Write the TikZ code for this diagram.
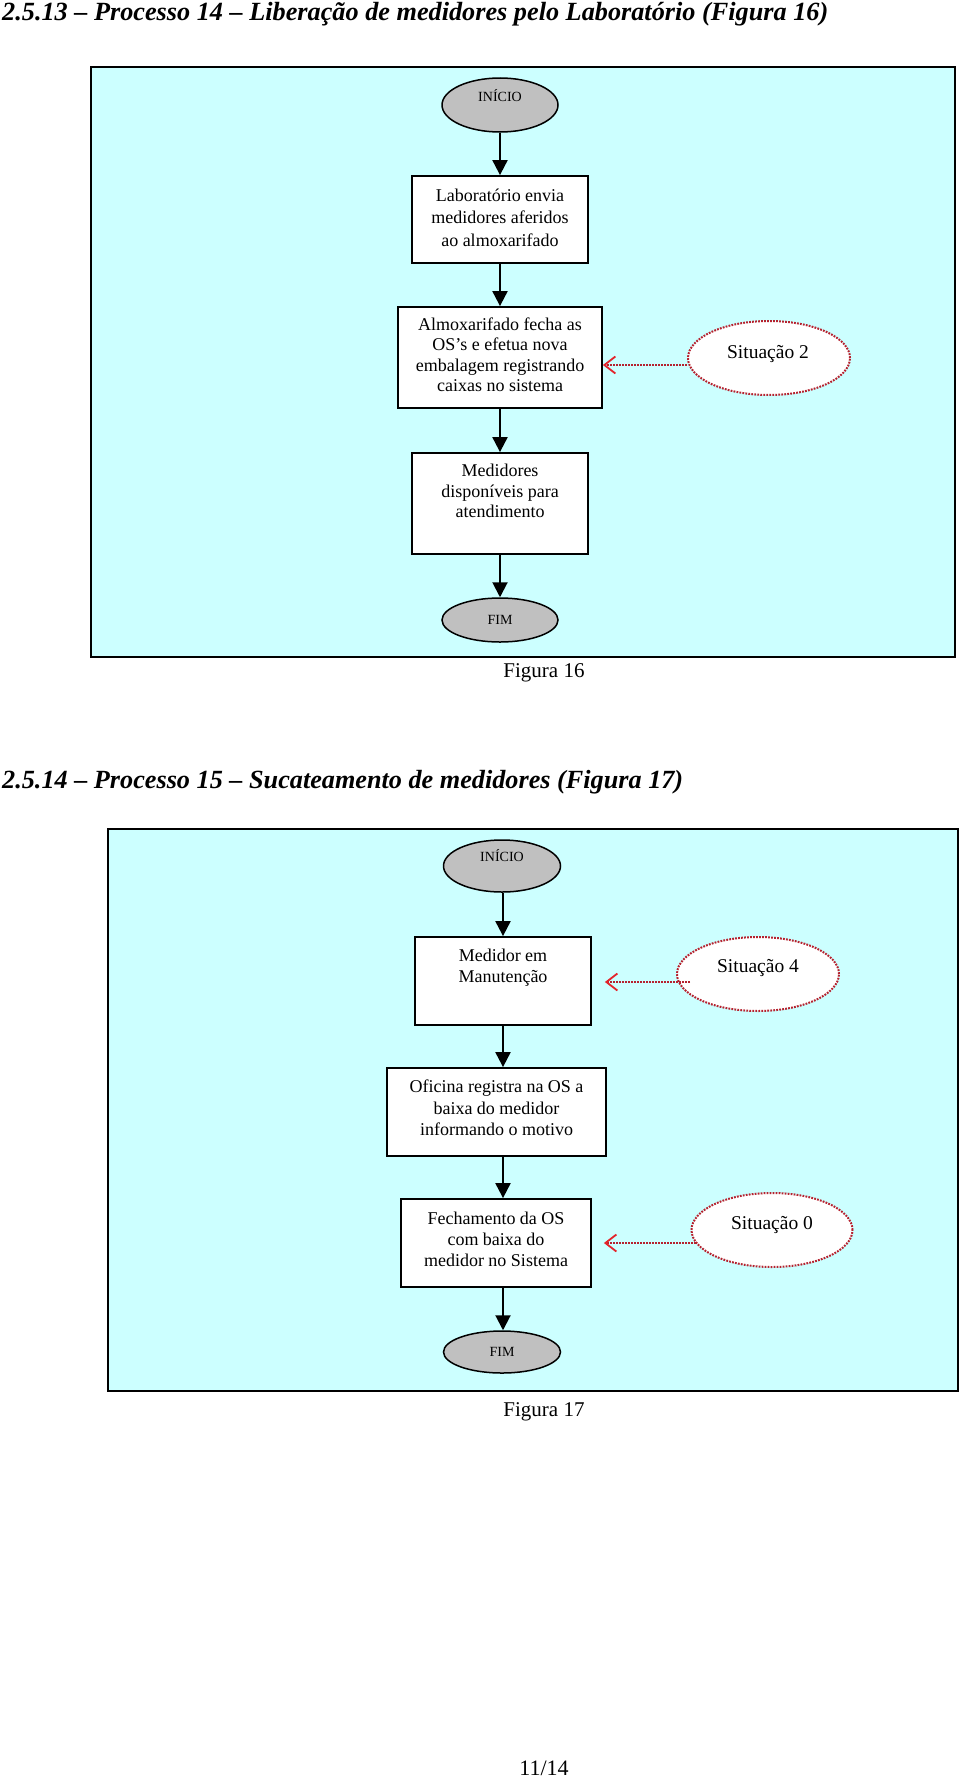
\documentclass[tikz,border=0pt]{standalone}
\usepackage{fontspec}
\setmainfont{Liberation Serif}
\usepackage{graphicx}
\usetikzlibrary{arrows.meta,calc,shapes.geometric}
\definecolor{bgcyan}{HTML}{CCFFFF}
\definecolor{ellgray}{HTML}{C0C0C0}
\definecolor{dotred}{HTML}{B5222F}
\definecolor{tipred}{HTML}{E3242B}
\newcommand\SL[1]{\strut#1}
\begin{document}
\begin{tikzpicture}[x=1pt,y=-1pt,
  frame/.style={draw=black, line width=2pt, fill=bgcyan, rectangle, inner sep=0pt},
  stepbox/.style={draw=black, line width=1.8pt, fill=white, rectangle, inner sep=0pt},
  term/.style={draw=black, line width=1.5pt, fill=ellgray, ellipse, inner sep=0pt},
  sit/.style={draw=dotred, line width=2pt, dash pattern=on 1.8pt off 1.2pt, fill=white, ellipse, inner sep=0pt},
  boxtext/.style={align=center, font=\fontsize{18}{21}\selectfont, inner sep=0pt},
  termtext/.style={anchor=base, font=\fontsize{14}{16}\selectfont, inner sep=0pt},
  sittext/.style={anchor=base, font=\fontsize{19.5}{22}\selectfont, inner sep=0pt},
  plain/.style={anchor=base, inner sep=0pt},
  flow/.style={draw=black, line width=2pt, -{Triangle[length=15pt,width=15pt]}},
  ref/.style={draw=dotred, line width=2pt, dash pattern=on 1.8pt off 1.2pt,
    -{Straight Barb[length=11pt,width=17pt,line width=1.8pt,color=tipred]}}
]
\fill[white] (0,0) rectangle (960,1777);
\useasboundingbox (0,0) rectangle (960,1777);

% ---------- Title 1 ----------
\node[anchor=base west, inner sep=0pt] (t1) at (2,21)
  {\resizebox{826pt}{!}{\fontsize{26}{30}\selectfont\bfseries\itshape 2.5.13 – Processo 14 – Liberação de medidores pelo Laboratório (Figura 16)}};

% ---------- Figure 16 ----------
\node[frame, minimum width=864pt, minimum height=590pt] (f1) at (523,362) {};

\node[term, minimum width=116pt, minimum height=54pt] (st1) at (500,105) {};
\node[termtext] (st1t) at (500,101.6) {INÍCIO};

\node[stepbox, minimum width=176pt, minimum height=87pt] (b1) at (500,219.5) {};
\node[boxtext, font=\fontsize{18}{22.5}\selectfont] (b1t) at (500,219.3)
  {\SL{Laboratório envia}\\\SL{medidores aferidos}\\\SL{ao almoxarifado}};

\node[stepbox, minimum width=204pt, minimum height=101pt] (b2) at (500,357.5) {};
\node[boxtext, font=\fontsize{18}{20.3}\selectfont] (b2t) at (500,357)
  {\SL{Almoxarifado fecha as}\\\SL{OS’s e efetua nova}\\\SL{embalagem registrando}\\\SL{caixas no sistema}};

\node[sit, minimum width=162pt, minimum height=74pt] (s2) at (769,358) {};
\node[sittext] (s2t) at (768,358.5) {Situação 2};

\node[stepbox, minimum width=176pt, minimum height=101pt] (b3) at (500,503.5) {};
\node[boxtext, font=\fontsize{18}{20.5}\selectfont] (b3t) at (500,493.3)
  {\SL{Medidores}\\\SL{disponíveis para}\\\SL{atendimento}};

\node[term, minimum width=116pt, minimum height=44pt] (en1) at (500,620) {};
\node[termtext] (en1t) at (500,624.6) {FIM};

\draw[flow] (st1) -- (b1);
\draw[flow] (b1) -- (b2);
\draw[flow] (b2) -- (b3);
\draw[flow] (b3) -- (en1);
\draw[ref] ($(s2.west)+(0,7)$) -- ($(b2.east)+(0,7.5)$);

\node[plain, font=\fontsize{21}{24}\selectfont] (cap1) at (544,677) {Figura 16};

% ---------- Title 2 ----------
\node[anchor=base west, inner sep=0pt] (t2) at (2,788)
  {\resizebox{681pt}{!}{\fontsize{26}{30}\selectfont\bfseries\itshape 2.5.14 – Processo 15 – Sucateamento de medidores (Figura 17)}};

% ---------- Figure 17 ----------
\node[frame, minimum width=850pt, minimum height=562pt] (f2) at (533,1110) {};

\node[term, minimum width=117pt, minimum height=52pt] (st2) at (502,866) {};
\node[termtext] (st2t) at (502,861.6) {INÍCIO};

\node[stepbox, minimum width=176pt, minimum height=88pt] (b4) at (503,981) {};
\node[boxtext] (b4t) at (503,967.5)
  {\SL{Medidor em}\\\SL{Manutenção}};

\node[sit, minimum width=162pt, minimum height=74pt] (s4) at (758,974) {};
\node[sittext] (s4t) at (758,972.5) {Situação 4};

\node[stepbox, minimum width=219pt, minimum height=88pt] (b5) at (496.5,1112) {};
\node[boxtext, font=\fontsize{18}{21.5}\selectfont] (b5t) at (496.5,1109.7)
  {\SL{Oficina registra na OS a}\\\SL{baixa do medidor}\\\SL{informando o motivo}};

\node[stepbox, minimum width=190pt, minimum height=88pt] (b6) at (496,1243) {};
\node[boxtext] (b6t) at (496,1241.3)
  {\SL{Fechamento da OS}\\\SL{com baixa do}\\\SL{medidor no Sistema}};

\node[sit, minimum width=161pt, minimum height=74pt] (s0) at (772,1230) {};
\node[sittext] (s0t) at (772,1229.5) {Situação 0};

\node[term, minimum width=117pt, minimum height=42pt] (en2) at (502,1352) {};
\node[termtext] (en2t) at (502,1356.6) {FIM};

\draw[flow] (b4.north |- st2.south) -- (b4.north);
\draw[flow] (b4.south) -- (b4.south |- b5.north);
\draw[flow] (b4.south |- b5.south) -- (b4.south |- b6.north);
\draw[flow] (b4.south |- b6.south) -- (b4.south |- en2.north);
\draw[ref] ($(s4.west)+(14,8)$) -- ($(b4.east)+(13,1)$);
\draw[ref] ($(s0.west)+(5,13)$) -- ($(b6.east)+(12,0)$);

\node[plain, font=\fontsize{21}{24}\selectfont] (cap2) at (544,1416) {Figura 17};

\node[plain, font=\fontsize{22}{24}\selectfont] (pg) at (544,1775) {11/14};
\end{tikzpicture}
\end{document}
